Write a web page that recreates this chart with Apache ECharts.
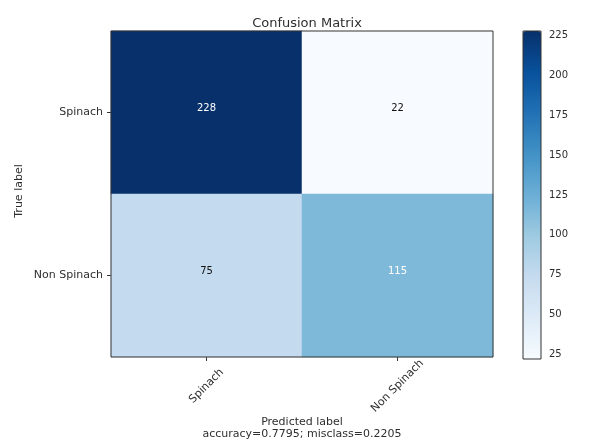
<!DOCTYPE html>
<html>
<head>
<meta charset="utf-8">
<script src="https://cdn.jsdelivr.net/npm/echarts@6/dist/echarts.min.js"></script>
<style>html,body{margin:0;padding:0;background:#fff;}#c{width:596px;height:442px;}</style>
</head>
<body>
<div id="c"></div>
<script>
const predictedLabels = ['Spinach', 'Non Spinach'];
const trueLabels = ['Spinach', 'Non Spinach'];
// rows = true label, columns = predicted label
const matrixRow0 = [228, 22];
const matrixRow1 = [75, 115];
const colorbarTicks = [25, 50, 75, 100, 125, 150, 175, 200, 225];
const accuracyText = 'accuracy=0.7795; misclass=0.2205';

const rows = [matrixRow0, matrixRow1];
const heatData = [];
rows.forEach((row, yi) => row.forEach((v, xi) => heatData.push([xi, yi, v])));
const allVals = heatData.map(d => d[2]);
const vMin = Math.min(...allVals), vMax = Math.max(...allVals);
const thresh = vMax / 2;

const FONT = 'DejaVu Sans';
const TXT = '#2e2e2e';
const chart = echarts.init(document.getElementById('c'), null, {renderer: 'canvas'});
chart.setOption({
  animation: false,
  backgroundColor: '#fff',
  textStyle: {fontFamily: FONT},
  title: {
    text: 'Confusion Matrix', left: 302, top: 12, textAlign: 'center',
    textStyle: {fontFamily: FONT, fontSize: 13, fontWeight: 'normal', color: TXT}
  },
  grid: [
    {left: 111, top: 31, width: 382, height: 326, show: true, borderColor: '#333', borderWidth: 1, z: 10, backgroundColor: 'transparent', containLabel: false, outerBoundsMode: 'none'},
    {left: 523, top: 31, width: 18, height: 328, show: true, borderColor: '#333', borderWidth: 1, z: 10, backgroundColor: 'transparent', containLabel: false, outerBoundsMode: 'none'}
  ],
  xAxis: [
    {
      type: 'category', gridIndex: 0, data: predictedLabels,
      axisLine: {show: false},
      axisTick: {show: true, alignWithLabel: true, length: 4, lineStyle: {color: '#333'}},
      splitLine: {show: false},
      axisLabel: {rotate: 45, align: 'center', verticalAlign: 'middle', margin: 29, fontSize: 11, color: TXT, fontFamily: FONT, interval: 0},
      name: 'Predicted label\n' + accuracyText,
      nameLocation: 'middle', nameGap: 59, nameMoveOverlap: false,
      nameTextStyle: {fontSize: 11, lineHeight: 12, color: TXT, fontFamily: FONT, verticalAlign: 'top', align: 'center'}
    },
    {type: 'value', gridIndex: 1, show: false, min: 0, max: 1}
  ],
  yAxis: [
    {
      type: 'category', gridIndex: 0, data: trueLabels, inverse: true,
      axisLine: {show: false},
      axisTick: {show: true, alignWithLabel: true, length: 4, lineStyle: {color: '#333'}},
      splitLine: {show: false},
      axisLabel: {fontSize: 11, color: TXT, margin: 8, fontFamily: FONT},
      name: 'True label', nameLocation: 'middle', nameGap: 86, nameRotate: 90, nameMoveOverlap: false,
      nameTextStyle: {fontSize: 11, color: TXT, fontFamily: FONT, padding: [0, 0, 0, 6]}
    },
    {
      type: 'value', gridIndex: 1, position: 'right', min: vMin, max: vMax,
      axisLine: {show: false},
      splitLine: {show: false},
      axisTick: {show: true, length: 4, lineStyle: {color: '#333'}, customValues: colorbarTicks},
      axisLabel: {fontSize: 10, color: TXT, margin: 8, fontFamily: FONT, customValues: colorbarTicks}
    }
  ],
  visualMap: {
    type: 'continuous', min: vMin, max: vMax, seriesIndex: 0,
    calculable: false, realtime: false, showLabel: false, text: null,
    left: 523, top: 31, itemWidth: 18, itemHeight: 328, padding: 0,
    orient: 'vertical',
    inRange: {color: ['#f7fbff', '#deebf7', '#c6dbef', '#9ecae1', '#6baed6', '#4292c6', '#2171b5', '#08519c', '#08306b']}
  },
  series: [
    {
      type: 'heatmap', xAxisIndex: 0, yAxisIndex: 0,
      data: heatData.map(d => ({value: d, label: {color: d[2] > thresh ? '#fff' : '#111'}})),
      label: {show: true, fontSize: 10, fontFamily: FONT, offset: [0, -4], formatter: p => String(p.value[2])},
      itemStyle: {borderWidth: 0}
    },
    {type: 'line', xAxisIndex: 1, yAxisIndex: 1, data: [], silent: true}
  ]
});
</script>
</body>
</html>
